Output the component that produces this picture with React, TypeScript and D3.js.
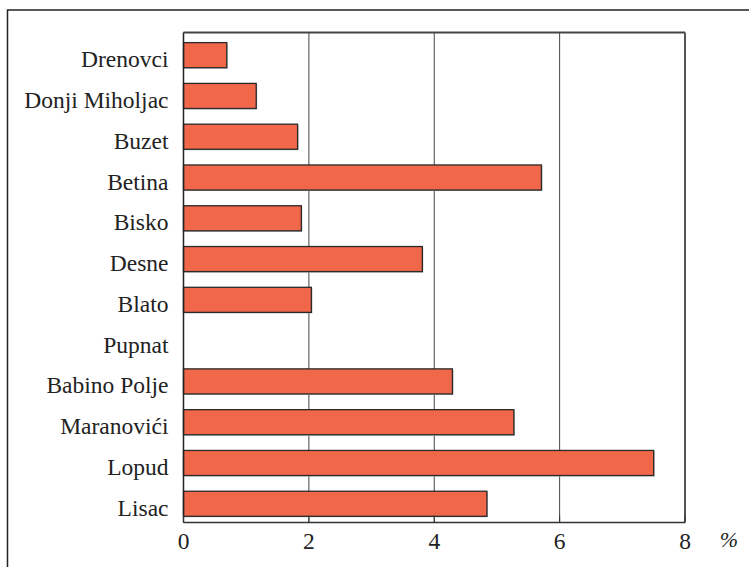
import React from "react";
import * as d3 from "d3";

const categories = ["Drenovci", "Donji Miholjac", "Buzet", "Betina", "Bisko", "Desne", "Blato", "Pupnat", "Babino Polje", "Maranovići", "Lopud", "Lisac"];
const values = [0.69, 1.16, 1.82, 5.71, 1.88, 3.81, 2.04, 0, 4.29, 5.27, 7.5, 4.84];
const xTicks = [0, 2, 4, 6, 8];
const unitLabel = "%";

export default function App() {
  const W = 749, H = 567;
  const left = 183.5, right = 685, top = 32.5, bottom = 522.5;
  const x = d3.scaleLinear().domain([0, 8]).range([left, right]);
  const y = d3.scaleBand<string>().domain(categories).range([top, bottom]).paddingInner(0.385).paddingOuter(0.2).align(0.62);
  const font = "'Liberation Serif', 'Times New Roman', Times, serif";
  return (
    <svg width={W} height={H} style={{ position: "absolute", left: 0, top: 0, background: "#fff" }}>
      <rect x={7.5} y={10} width={800} height={600} fill="#fff" stroke="#222" strokeWidth={1.5} />
      {xTicks.slice(1, -1).map(t => (
        <line key={t} x1={x(t)} x2={x(t)} y1={top} y2={bottom} stroke="#444" strokeWidth={1} />
      ))}
      {categories.map((c, i) => values[i] > 0 ? (
        <g key={c}>
          <rect x={x(0) + 1} y={y(c)! + 1} width={x(values[i]) - x(0)} height={y.bandwidth()} fill="#bbb" />
          <rect x={x(0)} y={y(c)} width={x(values[i]) - x(0)} height={y.bandwidth()} fill="#F1674A" stroke="#2a2a2a" strokeWidth={1.3} />
        </g>
      ) : null)}
      <line x1={left} x2={right} y1={top} y2={top} stroke="#444" strokeWidth={1.8} />
      <line x1={right} x2={right} y1={top} y2={bottom} stroke="#555" strokeWidth={2} />
      <line x1={left} x2={left} y1={top} y2={bottom} stroke="#222" strokeWidth={1.5} />
      <line x1={left} x2={right} y1={bottom} y2={bottom} stroke="#333" strokeWidth={1.5} />
      {xTicks.map(t => (
        <line key={"tk" + t} x1={x(t)} x2={x(t)} y1={bottom - 7} y2={bottom} stroke="#333" strokeWidth={1} />
      ))}
      {categories.map(c => (
        <text key={"l" + c} x={168.5} y={y(c)! + y.bandwidth() / 2 + 12} textAnchor="end" fontFamily={font} fontSize={23.5} fill="#222">{c}</text>
      ))}
      {xTicks.map(t => (
        <text key={"t" + t} x={x(t)} y={548.5} textAnchor="middle" fontFamily={font} fontSize={23.5} fill="#222">{t}</text>
      ))}
      <text x={729} y={547} textAnchor="middle" fontFamily={font} fontStyle="italic" fontSize={22} fill="#222">{unitLabel}</text>
    </svg>
  );
}
